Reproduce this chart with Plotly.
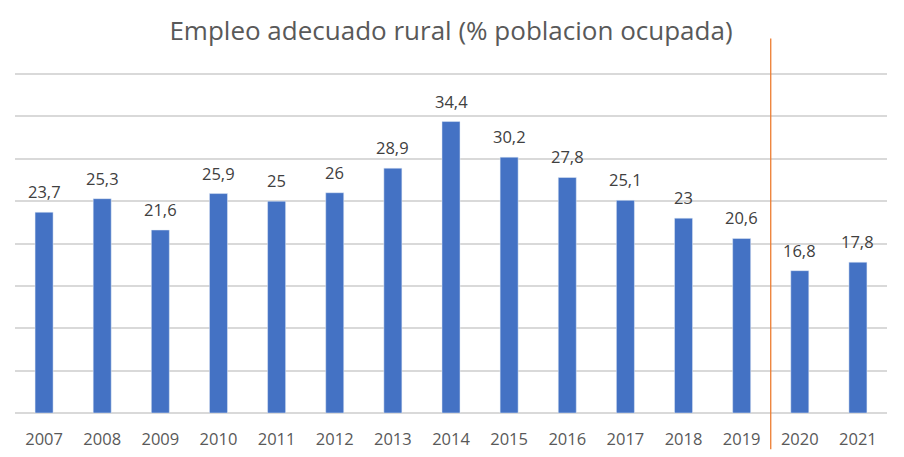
import plotly.graph_objects as go

years = ["2007", "2008", "2009", "2010", "2011", "2012", "2013", "2014",
         "2015", "2016", "2017", "2018", "2019", "2020", "2021"]
values = [23.7, 25.3, 21.6, 25.9, 25, 26, 28.9, 34.4, 30.2, 27.8, 25.1, 23, 20.6, 16.8, 17.8]
title_text = "Empleo adecuado rural (% poblacion ocupada)"
divider_after = "2019"  # vertical divider between 2019 and 2020

labels = [f"{v:g}".replace(".", ",") for v in values]
idx = list(range(len(years)))
divider_pos = years.index(divider_after) + 0.5

fig = go.Figure()
fig.add_trace(go.Bar(
    x=idx, y=values, marker_color="#4472C4", width=0.31,
    customdata=years, hovertemplate="%{customdata}: %{y}<extra></extra>",
))

annotations = [
    dict(x=i, y=v, text=lab, xref="x", yref="y", showarrow=False,
         yanchor="bottom", yshift=7,
         font=dict(family="Open Sans", size=16.5, color="#404040"))
    for i, v, lab in zip(idx, values, labels)
]

fig.add_shape(type="line", xref="x", yref="paper",
              x0=divider_pos, x1=divider_pos, y0=-0.106, y1=1.098,
              line=dict(color="#ED7D31", width=1.3))

fig.update_layout(
    width=904, height=457,
    margin=dict(l=15, r=17, t=72, b=44, autoexpand=False),
    paper_bgcolor="white", plot_bgcolor="white",
    showlegend=False,
    title=dict(text=title_text, x=0.5, xref="paper", xanchor="center",
               y=1 - 31 / 457, yanchor="middle",
               font=dict(family="Open Sans", size=26, color="#595959")),
    annotations=annotations,
)
fig.update_xaxes(range=[-0.5, len(years) - 0.5], tickvals=idx, ticktext=years,
                 showgrid=False, showline=False, ticks="", zeroline=False,
                 ticklabelstandoff=14, automargin=False,
                 tickfont=dict(family="Open Sans", size=16.5, color="#595959"))
fig.update_yaxes(range=[0, 40.25], tickvals=[0, 5, 10, 15, 20, 25, 30, 35, 40],
                 showticklabels=False, showgrid=True, automargin=False,
                 gridcolor="#D9D9D9", gridwidth=1.6, zeroline=True,
                 zerolinecolor="#D9D9D9", zerolinewidth=1.6, showline=False)

fig.write_html("out.html")
